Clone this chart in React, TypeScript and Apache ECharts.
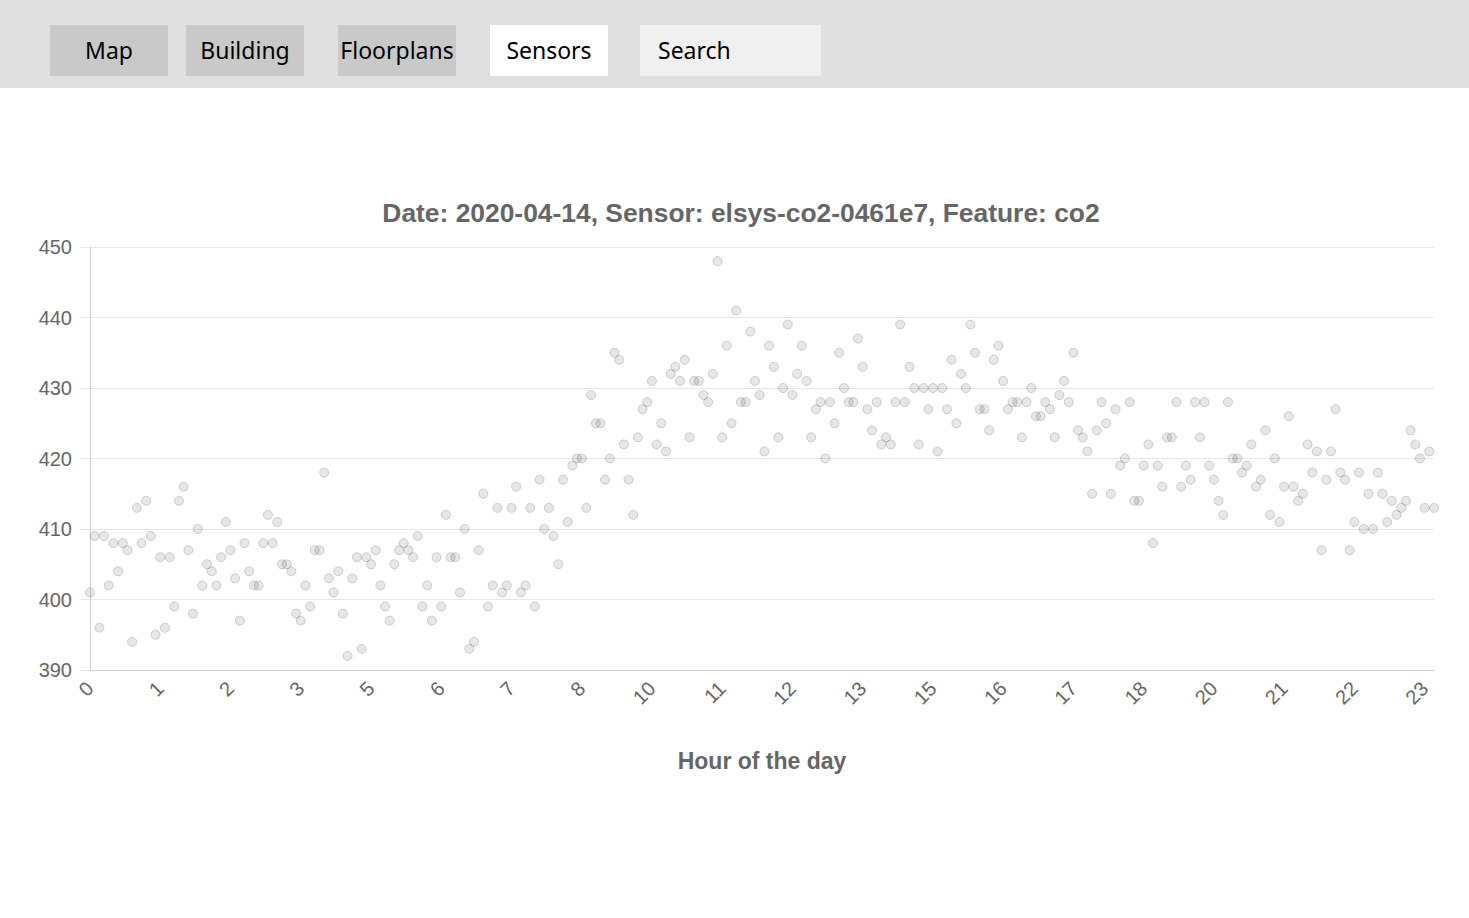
import React, { useEffect, useRef } from "react";
import * as echarts from "echarts";

const TITLE = "Date: 2020-04-14, Sensor: elsys-co2-0461e7, Feature: co2";
const X_AXIS_NAME = "Hour of the day";
const NAV_ITEMS = ["Map", "Building", "Floorplans", "Sensors", "Search"];
const ACTIVE_NAV = "Sensors";
const Y_MIN = 390;
const Y_MAX = 450;
const Y_STEP = 10;
const SAMPLES_PER_HOUR = 12;

// CO2 readings (ppm), one every 5 minutes
const co2Hours00to05 = [
  401, 409, 396, 409, 402, 408, 404, 408, 407, 394, 413, 408, 414, 409, 395, 406, 396, 406, 399, 414, 416, 407, 398, 410, 402,
  405, 404, 402, 406, 411, 407, 403, 397, 408, 404, 402, 402, 408, 412, 408, 411, 405, 405, 404, 398, 397, 402, 399,
  407, 407, 418, 403, 401, 404, 398, 392, 403, 406, 393, 406, 405, 407, 402, 399, 397, 405, 407, 408, 407, 406, 409,
  399,
];
const co2Hours06to11 = [
  402, 397, 406, 399, 412, 406, 406, 401, 410, 393, 394, 407, 415, 399, 402, 413, 401, 402, 413, 416, 401, 402, 413,
  399, 417, 410, 413, 409, 405, 417, 411, 419, 420, 420, 413, 429, 425, 425, 417, 420, 435, 434, 422, 417, 412, 423, 427,
  428, 431, 422, 425, 421, 432, 433, 431, 434, 423, 431, 431, 429, 428, 432, 448, 423, 436, 425, 441, 428, 428, 438, 431, 429,
];
const co2Hours12to17 = [
  421, 436, 433, 423, 430, 439, 429, 432, 436, 431, 423, 427, 428, 420, 428, 425, 435, 430, 428, 428, 437, 433,
  427, 424, 428, 422, 423, 422, 428, 439, 428, 433, 430, 422, 430, 427, 430, 421, 430, 427, 434, 425, 432, 430, 439,
  435, 427, 427, 424, 434, 436, 431, 427, 428, 428, 423, 428, 430, 426, 426, 428, 427, 423, 429, 431, 428, 435, 424, 423,
  421, 415, 424,
];
const co2Hours18to23 = [
  428, 425, 415, 427, 419, 420, 428, 414, 414, 419, 422, 408, 419, 416, 423, 423, 428, 416, 419, 417,
  428, 423, 428, 419, 417, 414, 412, 428, 420, 420, 418, 419, 422, 416, 417, 424, 412, 420, 411, 416, 426, 416, 414,
  415, 422, 418, 421, 407, 417, 421, 427, 418, 417, 407, 411, 418, 410, 415, 410, 418, 415, 411, 414, 412, 413, 414, 424, 422, 420, 413, 421, 413,
];

const co2Values = [...co2Hours00to05, ...co2Hours06to11, ...co2Hours12to17, ...co2Hours18to23];
const hourLabels = co2Values.map((_, i) => String(Math.floor(i / SAMPLES_PER_HOUR)));

const FONT = "'Liberation Sans', Arial, Helvetica, sans-serif";
const NAV_FONT = "'Noto Sans', 'Open Sans', sans-serif";

function buildNav() {
  const lefts = [50, 186, 338, 490, 640];
  const widths = [118, 118, 118, 118, 181];
  const fills = ["#c9c9c9", "#c9c9c9", "#c9c9c9", "#ffffff", "#f0f0f0"];
  const els: any[] = [
    { type: "rect", shape: { x: 0, y: 0, width: 1469, height: 88 }, style: { fill: "#e0e0e0" }, silent: true },
  ];
  NAV_ITEMS.forEach((label, i) => {
    const isSearch = label === "Search";
    els.push({
      type: "rect",
      shape: { x: lefts[i], y: 25, width: widths[i], height: 51 },
      style: { fill: label === ACTIVE_NAV ? "#ffffff" : fills[i] },
      silent: true,
    });
    els.push({
      type: "text",
      x: isSearch ? lefts[i] + 18 : lefts[i] + widths[i] / 2,
      y: 50,
      style: {
        text: label,
        fill: "#000000",
        font: `23px ${NAV_FONT}`,
        textAlign: isSearch ? "left" : "center",
        textVerticalAlign: "middle",
      },
      silent: true,
    });
  });
  return els;
}

export default function App() {
  const ref = useRef<HTMLDivElement>(null);
  useEffect(() => {
    if (!ref.current) return;
    const chart = echarts.init(ref.current, undefined, { renderer: "svg" });
    chart.setOption({
      animation: false,
      backgroundColor: "#ffffff",
      title: {
        text: TITLE,
        left: 736,
        top: 195,
        textAlign: "center",
        textStyle: { fontFamily: FONT, fontSize: 26.4, fontWeight: "bold", color: "#666666" },
      },
      graphic: buildNav(),
      grid: { left: 90, right: 35, top: 247, bottom: 248, containLabel: false },
      xAxis: {
        type: "category",
        data: hourLabels,
        boundaryGap: false,
        name: X_AXIS_NAME,
        nameLocation: "middle",
        nameGap: 79,
        nameTextStyle: { fontFamily: FONT, fontSize: 23, fontWeight: "bold", color: "#666666" },
        axisLine: { show: true, lineStyle: { color: "#d0d0d0", width: 1 } },
        axisTick: { show: false },
        axisLabel: {
          interval: 14,
          rotate: 45,
          margin: 15,
          color: "#666666",
          fontFamily: FONT,
          fontSize: 20,
        },
        splitLine: { show: false },
      },
      yAxis: {
        type: "value",
        min: Y_MIN,
        max: Y_MAX,
        interval: Y_STEP,
        axisLine: { show: true, lineStyle: { color: "#d0d0d0", width: 1 } },
        axisTick: { show: true, length: 10, lineStyle: { color: "#e6e6e6" } },
        axisLabel: { margin: 18, color: "#666666", fontFamily: FONT, fontSize: 20 },
        splitLine: { show: true, lineStyle: { color: "#e6e6e6", width: 1 } },
      },
      series: [
        {
          type: "scatter",
          data: co2Values,
          symbol: "circle",
          symbolSize: 9,
          itemStyle: {
            color: "rgba(0,0,0,0.12)",
            borderColor: "rgba(0,0,0,0.2)",
            borderWidth: 1,
          },
        },
      ],
    });
    return () => chart.dispose();
  }, []);
  return (
    <div
      ref={ref}
      style={{ position: "fixed", left: 0, top: 0, width: 1469, height: 918, background: "#ffffff" }}
    />
  );
}
